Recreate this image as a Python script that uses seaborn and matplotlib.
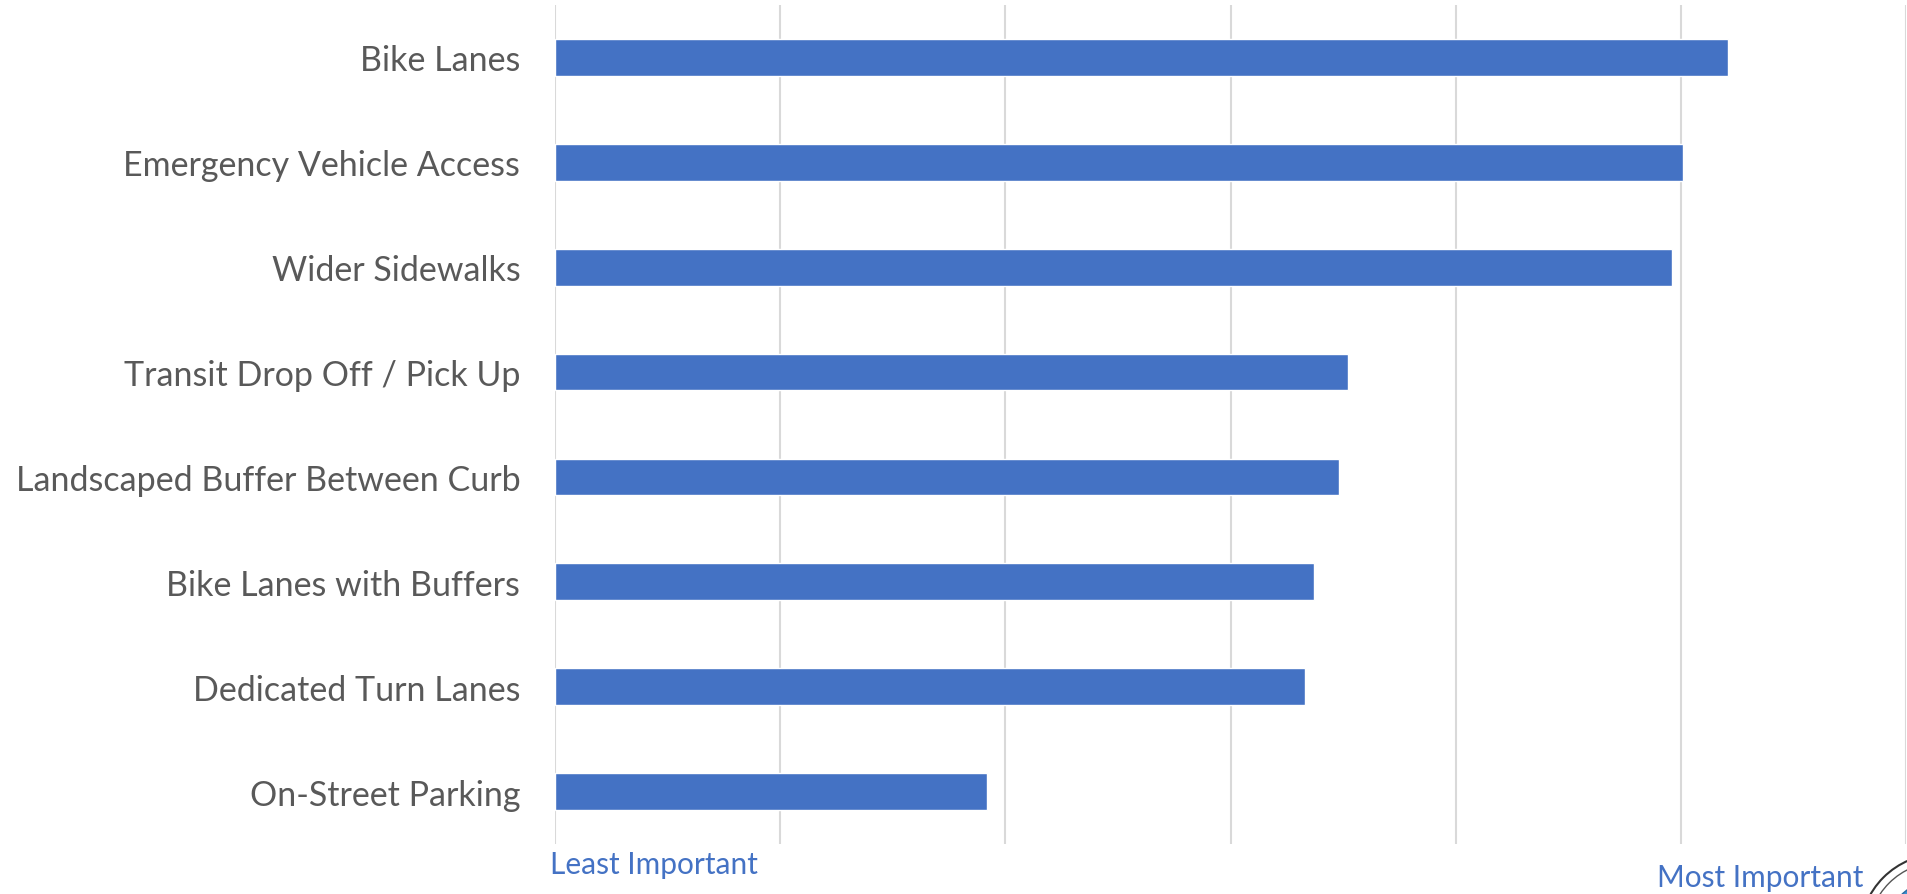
import matplotlib
matplotlib.use("Agg")
import matplotlib.pyplot as plt
from matplotlib.patches import Circle
from matplotlib.transforms import IdentityTransform
import seaborn as sns
import pandas as pd

categories = ["Bike Lanes", "Emergency Vehicle Access", "Wider Sidewalks",
              "Transit Drop Off / Pick Up", "Landscaped Buffer Between Curb",
              "Bike Lanes with Buffers", "Dedicated Turn Lanes", "On-Street Parking"]
scores = [5.21, 5.01, 4.96, 3.52, 3.48, 3.37, 3.33, 1.92]
low_label = "Least Important"
high_label = "Most Important"

sns.set_theme(style="white")
plt.rcParams['font.family'] = ['Lato', 'DejaVu Sans']

df = pd.DataFrame({"category": categories, "score": scores})

W, H = 1908, 895
fig = plt.figure(figsize=(W / 100, H / 100), dpi=100)
ax = fig.add_axes([555 / W, 50 / H, (1906 - 555) / W, (845 - 6) / H])
sns.barplot(data=df, y="category", x="score", color="#4472C4", width=0.35,
            saturation=1, ax=ax, zorder=3)
ax.set_xlim(0, 6)
ax.set_ylim(len(categories) - 0.5, -0.5)
ax.set_xticks(range(0, 7))
ax.set_xticklabels([])
ax.grid(axis="x", color="#d9d9d9", linewidth=1.5, zorder=0)
ax.grid(axis="y", visible=False)
for s in ax.spines.values():
    s.set_visible(False)
ax.tick_params(axis="both", length=0)
ax.tick_params(axis="y", labelsize=24.5, labelcolor="#595959", pad=25)
ax.set_xlabel("")
ax.set_ylabel("")
fig.text(550 / W, 1 - 865 / H, low_label, ha="left", va="center",
         fontsize=21.5, color="#4472C4")
fig.text(1863 / W, 1 - 878 / H, high_label, ha="right", va="center",
         fontsize=21.5, color="#4472C4")

# partial seal in the bottom-right corner (cut off by the image edge)
for r, fc, ec, lw in [(80, "white", "#333333", 1.5), (72, "white", "#555555", 1.0),
                      (55, "#3a8fd0", "#2a6aa0", 1.0)]:
    fig.patches.append(Circle((1940, -40), r, transform=IdentityTransform(),
                              facecolor=fc, edgecolor=ec, linewidth=lw, zorder=5))

fig.savefig("out.png", dpi=100)
